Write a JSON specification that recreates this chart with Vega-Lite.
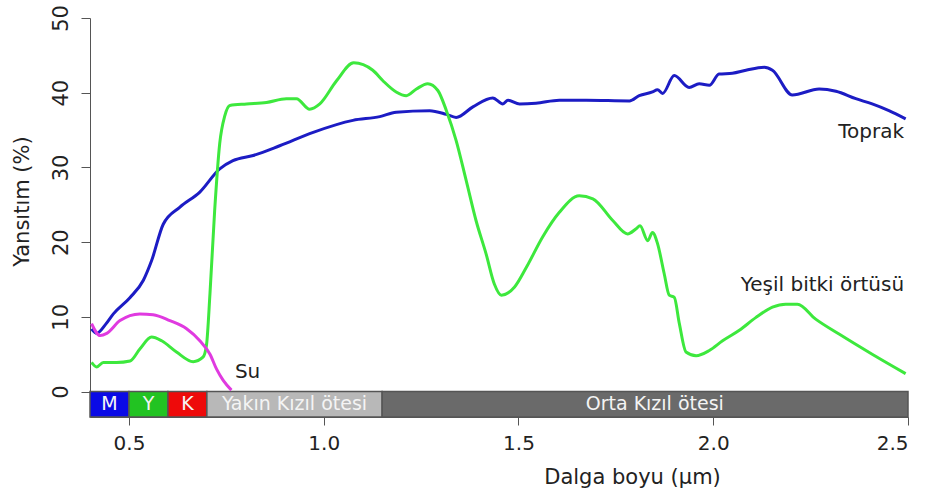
{
  "$schema": "https://vega.github.io/schema/vega-lite/v6.json",
  "width": 818,
  "height": 399,
  "autosize": "none",
  "padding": {"left": 90, "top": 18, "right": 18, "bottom": 78},
  "background": "white",
  "config": {
    "font": "DejaVu Sans",
    "view": {"stroke": null},
    "axis": {"grid": false, "labelColor": "#222", "titleColor": "#222", "titleFontWeight": "normal", "domainColor": "#555", "tickColor": "#555", "labelFont": "DejaVu Sans", "titleFont": "DejaVu Sans"}
  },
  "datasets": {
    "spectra": [
      {"wl": 0.404, "refl": 8.4, "cover": "Toprak"},
      {"wl": 0.417, "refl": 7.8, "cover": "Toprak"},
      {"wl": 0.44, "refl": 9.0, "cover": "Toprak"},
      {"wl": 0.46, "refl": 10.4, "cover": "Toprak"},
      {"wl": 0.503, "refl": 12.6, "cover": "Toprak"},
      {"wl": 0.537, "refl": 14.9, "cover": "Toprak"},
      {"wl": 0.558, "refl": 17.5, "cover": "Toprak"},
      {"wl": 0.588, "refl": 22.4, "cover": "Toprak"},
      {"wl": 0.631, "refl": 24.7, "cover": "Toprak"},
      {"wl": 0.682, "refl": 26.7, "cover": "Toprak"},
      {"wl": 0.733, "refl": 29.8, "cover": "Toprak"},
      {"wl": 0.767, "refl": 30.9, "cover": "Toprak"},
      {"wl": 0.819, "refl": 31.6, "cover": "Toprak"},
      {"wl": 0.887, "refl": 32.9, "cover": "Toprak"},
      {"wl": 0.973, "refl": 34.7, "cover": "Toprak"},
      {"wl": 1.075, "refl": 36.3, "cover": "Toprak"},
      {"wl": 1.144, "refl": 36.8, "cover": "Toprak"},
      {"wl": 1.186, "refl": 37.4, "cover": "Toprak"},
      {"wl": 1.272, "refl": 37.6, "cover": "Toprak"},
      {"wl": 1.315, "refl": 37.1, "cover": "Toprak"},
      {"wl": 1.34, "refl": 36.7, "cover": "Toprak"},
      {"wl": 1.383, "refl": 38.1, "cover": "Toprak"},
      {"wl": 1.434, "refl": 39.3, "cover": "Toprak"},
      {"wl": 1.46, "refl": 38.5, "cover": "Toprak"},
      {"wl": 1.473, "refl": 39.0, "cover": "Toprak"},
      {"wl": 1.503, "refl": 38.5, "cover": "Toprak"},
      {"wl": 1.545, "refl": 38.6, "cover": "Toprak"},
      {"wl": 1.605, "refl": 39.0, "cover": "Toprak"},
      {"wl": 1.674, "refl": 39.0, "cover": "Toprak"},
      {"wl": 1.785, "refl": 38.9, "cover": "Toprak"},
      {"wl": 1.81, "refl": 39.6, "cover": "Toprak"},
      {"wl": 1.844, "refl": 40.1, "cover": "Toprak"},
      {"wl": 1.857, "refl": 40.4, "cover": "Toprak"},
      {"wl": 1.87, "refl": 39.9, "cover": "Toprak"},
      {"wl": 1.9, "refl": 42.3, "cover": "Toprak"},
      {"wl": 1.938, "refl": 40.7, "cover": "Toprak"},
      {"wl": 1.964, "refl": 41.2, "cover": "Toprak"},
      {"wl": 1.99, "refl": 41.0, "cover": "Toprak"},
      {"wl": 2.015, "refl": 42.5, "cover": "Toprak"},
      {"wl": 2.049, "refl": 42.6, "cover": "Toprak"},
      {"wl": 2.084, "refl": 43.0, "cover": "Toprak"},
      {"wl": 2.131, "refl": 43.4, "cover": "Toprak"},
      {"wl": 2.152, "refl": 43.0, "cover": "Toprak"},
      {"wl": 2.203, "refl": 39.7, "cover": "Toprak"},
      {"wl": 2.272, "refl": 40.5, "cover": "Toprak"},
      {"wl": 2.315, "refl": 40.2, "cover": "Toprak"},
      {"wl": 2.366, "refl": 39.2, "cover": "Toprak"},
      {"wl": 2.408, "refl": 38.5, "cover": "Toprak"},
      {"wl": 2.451, "refl": 37.6, "cover": "Toprak"},
      {"wl": 2.494, "refl": 36.5, "cover": "Toprak"},
      {"wl": 0.404, "refl": 3.9, "cover": "Yeşil bitki örtüsü"},
      {"wl": 0.417, "refl": 3.3, "cover": "Yeşil bitki örtüsü"},
      {"wl": 0.434, "refl": 3.9, "cover": "Yeşil bitki örtüsü"},
      {"wl": 0.468, "refl": 3.9, "cover": "Yeşil bitki örtüsü"},
      {"wl": 0.503, "refl": 4.1, "cover": "Yeşil bitki örtüsü"},
      {"wl": 0.528, "refl": 5.7, "cover": "Yeşil bitki örtüsü"},
      {"wl": 0.558, "refl": 7.3, "cover": "Yeşil bitki örtüsü"},
      {"wl": 0.584, "refl": 6.8, "cover": "Yeşil bitki örtüsü"},
      {"wl": 0.622, "refl": 5.3, "cover": "Yeşil bitki örtüsü"},
      {"wl": 0.665, "refl": 4.0, "cover": "Yeşil bitki örtüsü"},
      {"wl": 0.69, "refl": 4.6, "cover": "Yeşil bitki örtüsü"},
      {"wl": 0.699, "refl": 6.2, "cover": "Yeşil bitki örtüsü"},
      {"wl": 0.708, "refl": 13.1, "cover": "Yeşil bitki örtüsü"},
      {"wl": 0.72, "refl": 24.2, "cover": "Yeşil bitki örtüsü"},
      {"wl": 0.733, "refl": 33.2, "cover": "Yeşil bitki örtüsü"},
      {"wl": 0.746, "refl": 36.9, "cover": "Yeşil bitki örtüsü"},
      {"wl": 0.759, "refl": 38.3, "cover": "Yeşil bitki örtüsü"},
      {"wl": 0.802, "refl": 38.5, "cover": "Yeşil bitki örtüsü"},
      {"wl": 0.853, "refl": 38.7, "cover": "Yeşil bitki örtüsü"},
      {"wl": 0.904, "refl": 39.2, "cover": "Yeşil bitki örtüsü"},
      {"wl": 0.93, "refl": 39.2, "cover": "Yeşil bitki örtüsü"},
      {"wl": 0.964, "refl": 37.8, "cover": "Yeşil bitki örtüsü"},
      {"wl": 0.99, "refl": 38.5, "cover": "Yeşil bitki örtüsü"},
      {"wl": 1.033, "refl": 41.6, "cover": "Yeşil bitki örtüsü"},
      {"wl": 1.077, "refl": 44.0, "cover": "Yeşil bitki örtüsü"},
      {"wl": 1.126, "refl": 43.0, "cover": "Yeşil bitki örtüsü"},
      {"wl": 1.152, "refl": 41.6, "cover": "Yeşil bitki örtüsü"},
      {"wl": 1.186, "refl": 40.1, "cover": "Yeşil bitki örtüsü"},
      {"wl": 1.212, "refl": 39.6, "cover": "Yeşil bitki örtüsü"},
      {"wl": 1.238, "refl": 40.5, "cover": "Yeşil bitki örtüsü"},
      {"wl": 1.267, "refl": 41.2, "cover": "Yeşil bitki örtüsü"},
      {"wl": 1.293, "refl": 40.3, "cover": "Yeşil bitki örtüsü"},
      {"wl": 1.315, "refl": 37.6, "cover": "Yeşil bitki örtüsü"},
      {"wl": 1.34, "refl": 33.6, "cover": "Yeşil bitki örtüsü"},
      {"wl": 1.366, "refl": 28.2, "cover": "Yeşil bitki örtüsü"},
      {"wl": 1.391, "refl": 22.9, "cover": "Yeşil bitki örtüsü"},
      {"wl": 1.417, "refl": 18.4, "cover": "Yeşil bitki örtüsü"},
      {"wl": 1.438, "refl": 14.4, "cover": "Yeşil bitki örtüsü"},
      {"wl": 1.456, "refl": 12.9, "cover": "Yeşil bitki örtüsü"},
      {"wl": 1.49, "refl": 14.0, "cover": "Yeşil bitki örtüsü"},
      {"wl": 1.52, "refl": 16.6, "cover": "Yeşil bitki örtüsü"},
      {"wl": 1.562, "refl": 20.7, "cover": "Yeşil bitki örtüsü"},
      {"wl": 1.605, "refl": 24.0, "cover": "Yeşil bitki örtüsü"},
      {"wl": 1.656, "refl": 26.2, "cover": "Yeşil bitki örtüsü"},
      {"wl": 1.691, "refl": 25.8, "cover": "Yeşil bitki örtüsü"},
      {"wl": 1.742, "refl": 22.9, "cover": "Yeşil bitki örtüsü"},
      {"wl": 1.78, "refl": 21.1, "cover": "Yeşil bitki örtüsü"},
      {"wl": 1.802, "refl": 21.8, "cover": "Yeşil bitki örtüsü"},
      {"wl": 1.812, "refl": 22.2, "cover": "Yeşil bitki örtüsü"},
      {"wl": 1.832, "refl": 20.2, "cover": "Yeşil bitki örtüsü"},
      {"wl": 1.844, "refl": 21.3, "cover": "Yeşil bitki örtüsü"},
      {"wl": 1.857, "refl": 19.8, "cover": "Yeşil bitki örtüsü"},
      {"wl": 1.874, "refl": 15.8, "cover": "Yeşil bitki örtüsü"},
      {"wl": 1.887, "refl": 12.9, "cover": "Yeşil bitki örtüsü"},
      {"wl": 1.9, "refl": 12.6, "cover": "Yeşil bitki örtüsü"},
      {"wl": 1.913, "refl": 9.1, "cover": "Yeşil bitki örtüsü"},
      {"wl": 1.93, "refl": 5.3, "cover": "Yeşil bitki örtüsü"},
      {"wl": 1.956, "refl": 4.8, "cover": "Yeşil bitki örtüsü"},
      {"wl": 1.99, "refl": 5.5, "cover": "Yeşil bitki örtüsü"},
      {"wl": 2.024, "refl": 6.8, "cover": "Yeşil bitki örtüsü"},
      {"wl": 2.067, "refl": 8.2, "cover": "Yeşil bitki örtüsü"},
      {"wl": 2.109, "refl": 9.9, "cover": "Yeşil bitki örtüsü"},
      {"wl": 2.152, "refl": 11.3, "cover": "Yeşil bitki örtüsü"},
      {"wl": 2.186, "refl": 11.7, "cover": "Yeşil bitki örtüsü"},
      {"wl": 2.216, "refl": 11.7, "cover": "Yeşil bitki örtüsü"},
      {"wl": 2.263, "refl": 9.7, "cover": "Yeşil bitki örtüsü"},
      {"wl": 2.323, "refl": 7.7, "cover": "Yeşil bitki örtüsü"},
      {"wl": 2.408, "refl": 5.0, "cover": "Yeşil bitki örtüsü"},
      {"wl": 2.494, "refl": 2.4, "cover": "Yeşil bitki örtüsü"},
      {"wl": 0.404, "refl": 9.1, "cover": "Su"},
      {"wl": 0.426, "refl": 7.5, "cover": "Su"},
      {"wl": 0.443, "refl": 7.8, "cover": "Su"},
      {"wl": 0.477, "refl": 9.5, "cover": "Su"},
      {"wl": 0.528, "refl": 10.4, "cover": "Su"},
      {"wl": 0.562, "refl": 10.3, "cover": "Su"},
      {"wl": 0.605, "refl": 9.5, "cover": "Su"},
      {"wl": 0.648, "refl": 8.4, "cover": "Su"},
      {"wl": 0.682, "refl": 6.8, "cover": "Su"},
      {"wl": 0.708, "refl": 5.0, "cover": "Su"},
      {"wl": 0.725, "refl": 3.0, "cover": "Su"},
      {"wl": 0.742, "refl": 1.5, "cover": "Su"},
      {"wl": 0.763, "refl": 0.2, "cover": "Su"}
    ],
    "bands": [
      {"start": 0.4, "end": 0.5, "mid": 0.45, "name": "M", "kind": "M"},
      {"start": 0.5, "end": 0.6, "mid": 0.55, "name": "Y", "kind": "Y"},
      {"start": 0.6, "end": 0.7, "mid": 0.65, "name": "K", "kind": "K"},
      {"start": 0.7, "end": 1.15, "mid": 0.925, "name": "Yakın Kızıl ötesi", "kind": "NIR"},
      {"start": 1.15, "end": 2.5, "mid": 1.85, "name": "Orta Kızıl ötesi", "kind": "MIR"}
    ],
    "notes": [
      {"wl": 2.49, "refl": 34.8, "label": "Toprak", "side": "right"},
      {"wl": 2.49, "refl": 14.3, "label": "Yeşil bitki örtüsü", "side": "right"},
      {"wl": 0.772, "refl": 2.6, "label": "Su", "side": "left"}
    ]
  },
  "layer": [
    {
      "data": {"name": "bands"},
      "mark": {"type": "rect", "stroke": "#555555", "strokeWidth": 1.5},
      "encoding": {
        "x": {"field": "start", "type": "quantitative", "scale": {"domain": [0.4, 2.5], "nice": false, "zero": false},
              "axis": {"values": [0.5, 1.0, 1.5, 2.0, 2.5], "format": ".1f", "labelFontSize": 20, "tickSize": 8, "labelPadding": 8, "title": "Dalga boyu (µm)", "titleFontSize": 21, "titleX": 542, "titleY": 60, "titleBaseline": "middle", "titleAlign": "center"}},
        "x2": {"field": "end"},
        "y": {"datum": 0, "type": "quantitative", "scale": {"domain": [-3.4, 50], "nice": false, "zero": false},
              "axis": {"values": [0, 10, 20, 30, 40, 50], "labelFontSize": 21, "labelAngle": -90, "labelAlign": "center", "labelBaseline": "bottom", "tickSize": 9, "labelPadding": 10, "title": "Yansıtım (%)", "titleFontSize": 21, "titleX": -68, "titleY": 183, "titleBaseline": "middle", "titleAlign": "center", "titleAngle": -90}},
        "y2": {"datum": -3.4},
        "fill": {"field": "kind", "type": "nominal", "scale": {"domain": ["M", "Y", "K", "NIR", "MIR"], "range": ["#0a0ae6", "#22c322", "#ee0a0a", "#b8b8b8", "#6a6a6a"]}, "legend": null}
      }
    },
    {
      "data": {"name": "bands"},
      "mark": {"type": "text", "fontSize": 19, "baseline": "middle", "align": "center", "color": "#f4f4f4"},
      "encoding": {
        "x": {"field": "mid", "type": "quantitative"},
        "y": {"datum": -1.7, "type": "quantitative"},
        "text": {"field": "name"}
      }
    },
    {
      "data": {"name": "spectra"},
      "mark": {"type": "line", "strokeWidth": 3, "interpolate": "monotone"},
      "encoding": {
        "x": {"field": "wl", "type": "quantitative"},
        "y": {"field": "refl", "type": "quantitative"},
        "color": {"field": "cover", "type": "nominal", "scale": {"domain": ["Toprak", "Yeşil bitki örtüsü", "Su"], "range": ["#1c1cc4", "#3de83d", "#e03ae0"]}, "legend": null}
      }
    },
    {
      "data": {"name": "notes"},
      "transform": [{"filter": "datum.side == 'right'"}],
      "mark": {"type": "text", "fontSize": 20, "align": "right", "baseline": "middle", "color": "#222"},
      "encoding": {
        "x": {"field": "wl", "type": "quantitative"},
        "y": {"field": "refl", "type": "quantitative"},
        "text": {"field": "label"}
      }
    },
    {
      "data": {"name": "notes"},
      "transform": [{"filter": "datum.side == 'left'"}],
      "mark": {"type": "text", "fontSize": 20, "align": "left", "baseline": "middle", "color": "#222"},
      "encoding": {
        "x": {"field": "wl", "type": "quantitative"},
        "y": {"field": "refl", "type": "quantitative"},
        "text": {"field": "label"}
      }
    }
  ]
}
